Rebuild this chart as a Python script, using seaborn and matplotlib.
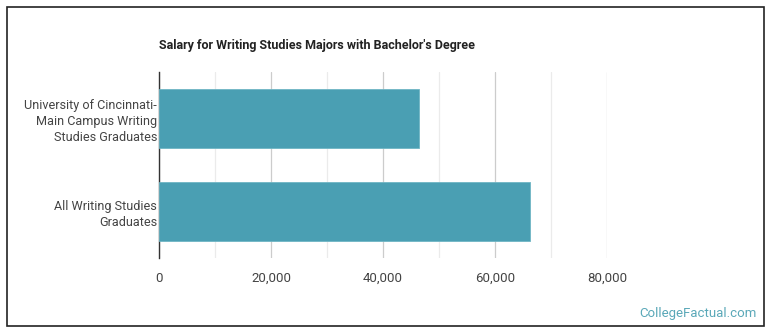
import matplotlib
matplotlib.use("Agg")
import matplotlib.pyplot as plt
import seaborn as sns
import pandas as pd
from matplotlib.ticker import MultipleLocator, FuncFormatter
from matplotlib.patches import Rectangle

categories = ["University of Cincinnati-\nMain Campus Writing\nStudies Graduates",
              "All Writing Studies\nGraduates"]
salaries = [46400, 66300]
x_ticks = [0, 20000, 40000, 60000, 80000]

sns.set_style("white")
plt.rcParams['font.family'] = ['Roboto', 'DejaVu Sans']

df = pd.DataFrame({"group": categories, "salary": salaries})

fig = plt.figure(figsize=(7.7, 3.35), dpi=100)
ax = fig.add_axes([159/770, 1-258/335, (607-159)/770, (258-72)/335])

sns.barplot(data=df, y="group", x="salary", color="#4a9fb3", width=0.645,
            saturation=1, ax=ax, zorder=3, edgecolor="#6fb5c4", linewidth=0.6)

ax.set_xlim(0, 80000)
ax.set_xticks(x_ticks)
ax.xaxis.set_minor_locator(MultipleLocator(10000))
ax.xaxis.set_major_formatter(FuncFormatter(lambda v, p: f"{int(v):,}"))
ax.grid(axis="x", which="major", color="#cccccc", linewidth=0.9, zorder=0)
ax.grid(axis="x", which="minor", color="#ebebeb", linewidth=0.9, zorder=0)
ax.set_axisbelow(True)
for s in ["top", "right", "bottom"]:
    ax.spines[s].set_visible(False)
ax.spines["left"].set_color("#333333")
ax.spines["left"].set_linewidth(1.0)
ax.set_xlabel("")
ax.set_ylabel("")
ax.tick_params(axis="both", length=0, colors="#444444")
ax.tick_params(axis="x", pad=10, labelsize=9.5)
ax.tick_params(axis="y", pad=1.5, labelsize=9.1)
for lab in ax.get_yticklabels():
    lab.set_horizontalalignment("right")
    lab.set_multialignment("right")
    lab.set_linespacing(1.3)

fig.text(159/770, 1-45/335, "Salary for Writing Studies Majors with Bachelor's Degree",
         fontsize=9, fontweight="bold", color="#222222", va="center", ha="left")
fig.text(757/770, 1-313/335, "CollegeFactual.com", fontsize=9.5, color="#5aa8b8",
         ha="right", va="center")

fig.patches.append(Rectangle((7/770, 1-326/335), (764-7)/770, (326-7)/335,
                             transform=fig.transFigure, fill=False,
                             edgecolor="#222222", linewidth=1.2))

fig.savefig("out.png", dpi=100)
